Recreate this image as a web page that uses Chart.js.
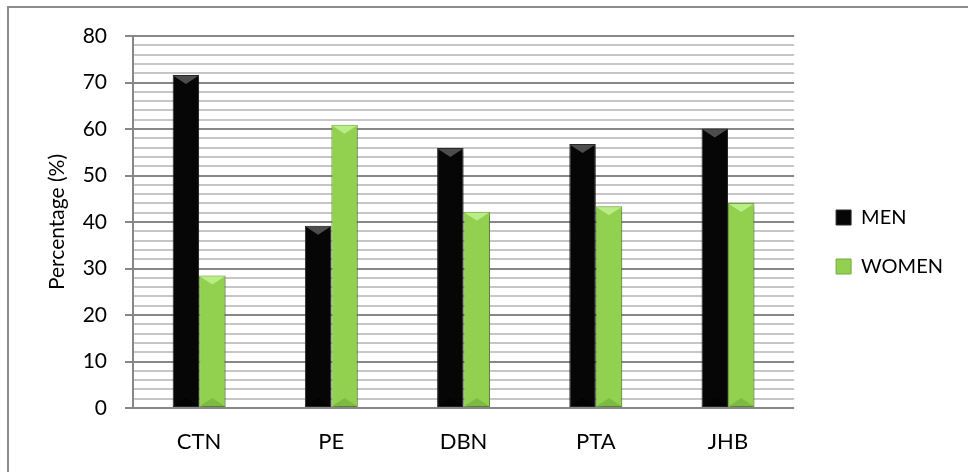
<!DOCTYPE html>
<html>
<head>
<meta charset="utf-8">
<script src="https://cdn.jsdelivr.net/npm/chart.js@4/dist/chart.umd.min.js"></script>
<style>
  html, body { margin: 0; padding: 0; background: #fff; }
  #wrap { position: relative; width: 968px; height: 472px; overflow: hidden; }
  #frame { position: absolute; left: 7px; top: 6px; width: 980px; height: 480px; border: 2px solid #8c8c8c; box-sizing: border-box; }
  canvas { position: absolute; left: 0; top: 0; }
</style>
</head>
<body>
<div id="wrap">
  <div id="frame"></div>
  <canvas id="c" width="968" height="472"></canvas>
</div>
<script>
const categories = ['CTN', 'PE', 'DBN', 'PTA', 'JHB'];
const menValues = [71.6, 39.2, 55.9, 56.8, 60.1];
const womenValues = [28.5, 60.9, 42.2, 43.4, 44.1];
const seriesNames = ['MEN', 'WOMEN'];

const FONT = 'Lato, "Open Sans", sans-serif';

const barStylePlugin = {
  id: 'barStyle',
  beforeDatasetsDraw(chart) {
    const ctx = chart.ctx;
    ctx.save();
    ctx.shadowColor = 'rgba(0,0,0,0.3)';
    ctx.shadowBlur = 4;
    ctx.shadowOffsetX = 2;
    ctx.shadowOffsetY = 2;
  },
  afterDatasetsDraw(chart) {
    const ctx = chart.ctx;
    ctx.restore();
    chart.data.datasets.forEach((ds, di) => {
      const meta = chart.getDatasetMeta(di);
      const light = di === 0 ? 'rgba(90,90,90,0.85)' : 'rgba(190,240,140,0.9)';
      const dark = di === 0 ? 'rgba(0,0,0,0.6)' : 'rgba(100,160,50,0.45)';
      meta.data.forEach(bar => {
        const w = bar.width, x = bar.x, y = bar.y, b = bar.base;
        const h = Math.min(9, (b - y) / 2);
        ctx.save();
        ctx.fillStyle = light;
        ctx.beginPath();
        ctx.moveTo(x - w / 2 + 1, y + 1);
        ctx.lineTo(x + w / 2 - 1, y + 1);
        ctx.lineTo(x, y + h);
        ctx.closePath();
        ctx.fill();
        ctx.fillStyle = dark;
        ctx.beginPath();
        ctx.moveTo(x - w / 2 + 1, b - 1);
        ctx.lineTo(x + w / 2 - 1, b - 1);
        ctx.lineTo(x, b - h);
        ctx.closePath();
        ctx.fill();
        ctx.restore();
      });
    });
  }
};

const legendShiftPlugin = {
  id: 'legendShift',
  afterLayout(chart) {
    const lg = chart.legend;
    if (!lg) return;
    const dx = 13, dy = -12;
    lg.left += dx; lg.right += dx;
    lg.top += dy; lg.bottom += dy;
  }
};

new Chart(document.getElementById('c'), {
  type: 'bar',
  data: {
    labels: categories,
    datasets: [
      { label: seriesNames[0], data: menValues, backgroundColor: '#060606', borderColor: '#2a2a2a', borderWidth: 1, borderSkipped: false,
        categoryPercentage: 0.4, barPercentage: 1.0 },
      { label: seriesNames[1], data: womenValues, backgroundColor: '#92d050', borderColor: '#74a93f', borderWidth: 1, borderSkipped: false,
        categoryPercentage: 0.4, barPercentage: 1.0 }
    ]
  },
  options: {
    responsive: false,
    animation: false,
    devicePixelRatio: 1,
    layout: { padding: { left: 0, top: 36, right: 28, bottom: 0 } },
    plugins: {
      tooltip: { enabled: false },
      legend: {
        position: 'right',
        align: 'center',
        labels: {
          boxWidth: 15, boxHeight: 15, padding: 29,
          color: '#000',
          font: { family: FONT, size: 20 },
          generateLabels(chart) {
            return chart.data.datasets.map((ds, i) => ({
              text: ds.label, fillStyle: ds.backgroundColor, strokeStyle: ds.borderColor,
              lineWidth: 1, datasetIndex: i, hidden: false
            }));
          }
        }
      }
    },
    scales: {
      x: {
        grid: { display: false, drawTicks: false },
        border: { display: false },
        ticks: { color: '#000', font: { family: FONT, size: 22 }, padding: 21 },
        afterFit(scale) { scale.height = 64; }
      },
      y: {
        min: 0, max: 80,
        ticks: {
          stepSize: 2,
          autoSkip: false,
          color: '#000',
          font: { family: FONT, size: 21 },
          padding: 18,
          callback: v => (v % 10 === 0 ? v : '')
        },
        grid: {
          color: c => (c.tick && c.tick.value % 10 === 0 ? '#878787' : '#c6c6c6'),
          tickColor: c => (c.tick && c.tick.value % 10 === 0 ? '#878787' : 'rgba(0,0,0,0)'),
          lineWidth: 2,
          tickLength: 8
        },
        border: { display: true, color: '#878787', width: 2 },
        title: {
          display: true, text: 'Percentage (%)', color: '#000',
          font: { family: FONT, size: 21 },
          padding: { top: 45, bottom: 0 }
        },
        afterFit(scale) { scale.width = 133; }
      }
    }
  },
  plugins: [barStylePlugin, legendShiftPlugin]
});
</script>
</body>
</html>
